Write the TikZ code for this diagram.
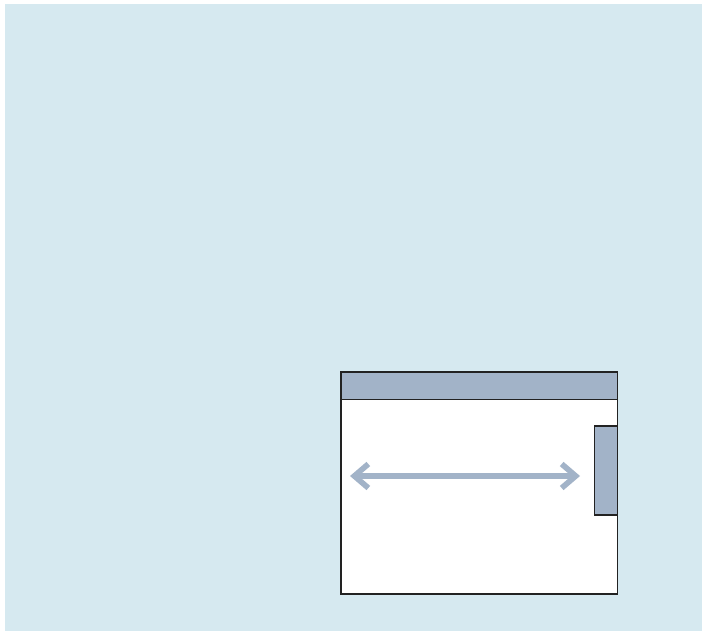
\documentclass[tikz,border=0pt]{standalone}
\usepackage{tikz}
\usepackage{xcolor}
\usetikzlibrary{arrows.meta,positioning}
\definecolor{skybg}{HTML}{D6E9F0}
\definecolor{barblue}{HTML}{A2B3C8}
\definecolor{edgegray}{HTML}{222222}

\begin{document}
\begin{tikzpicture}[x=0.02cm,y=-0.02cm,>={Straight Barb[length=2.8mm,width=4.8mm]},
  panel/.style={draw=edgegray,line width=0.8pt,inner sep=0pt,outer sep=0pt,anchor=north west}]
  \useasboundingbox (0,0) rectangle (702,631);
  \fill[skybg] (5,4) rectangle (702,631);
  % window
  \node[panel,fill=white,minimum width=5.53cm,minimum height=4.44cm] (win) at (341,372) {};
  \node[panel,fill=barblue,minimum width=5.53cm,minimum height=0.55cm] (bar) at (win.north west) {};
  % scroll thumb
  \node[panel,fill=barblue,below=1.08cm of win.north east,anchor=north east,minimum width=0.46cm,minimum height=1.78cm] (thumb) {};
  % resize arrow
  \coordinate (lft) at (350,476);
  \coordinate (rgt) at (580,476);
  \draw[barblue,line width=3.2pt,<->] (lft) -- (rgt);
\end{tikzpicture}
\end{document}
